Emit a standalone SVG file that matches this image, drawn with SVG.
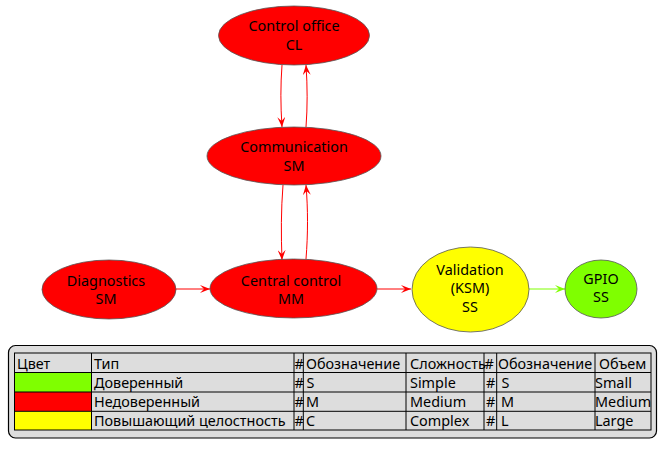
<svg xmlns="http://www.w3.org/2000/svg" width="672" height="453" viewBox="0 0 672 453">
<style>
text{font-family:"Noto Sans","Open Sans","DejaVu Sans",sans-serif;font-size:14.4px;fill:#000}
.n{text-anchor:middle}
.node ellipse{stroke:#555;stroke-width:0.8}
.red{fill:#FF0000}.yel{fill:#FFFF00}.grn{fill:#7FFF00}
.e{fill:none;stroke-width:1}
.er{stroke:#FF0000}.eg{stroke:#7FFF00}
.tl{stroke:#000;stroke-width:1;fill:none}
</style>
<defs>
<marker id="ar" viewBox="0 0 10 8" refX="10" refY="4" markerWidth="10" markerHeight="8" markerUnits="userSpaceOnUse" orient="auto">
<polygon points="0,0 10,4 0,8 4,4" fill="#FF0000"/>
</marker>
<marker id="ag" viewBox="0 0 10 8" refX="10" refY="4" markerWidth="10" markerHeight="8" markerUnits="userSpaceOnUse" orient="auto">
<polygon points="0,0 10,4 0,8 4,4" fill="#7FFF00"/>
</marker>
</defs>
<rect width="672" height="453" fill="#FFFFFF"/>
<g id="connectors">
<path class="e er" d="M282,65 C280.5,85 280.5,105 282,127" marker-end="url(#ar)"/>
<path class="e er" d="M306,127 C307.5,107 307.5,87 306,65" marker-end="url(#ar)"/>
<path class="e er" d="M283,185 C281,210 281,235 282,260" marker-end="url(#ar)"/>
<path class="e er" d="M306,259 C308,234 308,209 306,185" marker-end="url(#ar)"/>
<path class="e er" d="M176,289 L210,289" marker-end="url(#ar)"/>
<path class="e er" d="M377,289 L411,289" marker-end="url(#ar)"/>
<path class="e eg" d="M529,289 L565,289" marker-end="url(#ag)"/>
</g>
<g id="control-office" class="node">
<ellipse class="red" cx="294" cy="35.5" rx="75.5" ry="29.5"/>
<text class="n" x="294" y="31">Control office</text>
<text class="n" x="294" y="49.5">CL</text>
</g>
<g id="communication" class="node">
<ellipse class="red" cx="294" cy="156" rx="87" ry="29"/>
<text class="n" x="294" y="151.5">Communication</text>
<text class="n" x="294" y="171">SM</text>
</g>
<g id="diagnostics" class="node">
<ellipse class="red" cx="109" cy="289.5" rx="67" ry="29.5"/>
<text class="n" x="106" y="285.5">Diagnostics</text>
<text class="n" x="106" y="304">SM</text>
</g>
<g id="central-control" class="node">
<ellipse class="red" cx="293.5" cy="288.5" rx="83.5" ry="29.5"/>
<text class="n" x="291" y="285.5">Central control</text>
<text class="n" x="291" y="304">MM</text>
</g>
<g id="validation" class="node">
<ellipse class="yel" cx="470.5" cy="289.5" rx="58.5" ry="42.5"/>
<text class="n" x="470" y="274.5">Validation</text>
<text class="n" x="470" y="293">(KSM)</text>
<text class="n" x="470" y="311.5">SS</text>
</g>
<g id="gpio" class="node">
<ellipse class="grn" cx="601" cy="289" rx="36" ry="29"/>
<text class="n" x="601" y="283.5">GPIO</text>
<text class="n" x="601" y="302">SS</text>
</g>
<g id="legend">
<rect x="8.5" y="345.5" width="648" height="92.5" rx="7" ry="7" fill="#DDDDDD" stroke="#000" stroke-width="1.2"/>
<rect x="14.5" y="372.5" width="77" height="19.5" class="grn"/>
<rect x="14.5" y="392" width="77" height="19.3" class="red"/>
<rect x="14.5" y="411.3" width="77" height="18.7" class="yel"/>
<rect class="tl" x="14.5" y="353" width="636.5" height="77"/>
<path class="tl" d="M14.5,372.5H651M14.5,392H651M14.5,411.3H651M91.5,353V430M294,353V430M303.3,353V430M406,353V430M484,353V430M496.7,353V430M595,353V430"/>
<text x="17" y="368.5">Цвет</text>
<text x="94" y="368.5">Тип</text>
<text x="294.5" y="368.5">#</text>
<text x="306" y="368.5">Обозначение</text>
<text x="410" y="368.5">Сложность</text>
<text x="484.5" y="368.5">#</text>
<text x="498" y="368.5">Обозначение</text>
<text x="599" y="368.5">Объем</text>
<text x="94" y="388">Доверенный</text>
<text x="294.5" y="388">#</text>
<text x="306.5" y="388">S</text>
<text x="410" y="388">Simple</text>
<text x="486" y="388">#</text>
<text x="501.5" y="388">S</text>
<text x="595" y="388">Small</text>
<text x="94" y="407">Недоверенный</text>
<text x="294.5" y="407">#</text>
<text x="306" y="407">M</text>
<text x="410" y="407">Medium</text>
<text x="486" y="407">#</text>
<text x="501" y="407">M</text>
<text x="595" y="407">Medium</text>
<text x="94" y="426">Повышающий целостность</text>
<text x="294.5" y="426">#</text>
<text x="306" y="426">C</text>
<text x="410" y="426">Complex</text>
<text x="486" y="426">#</text>
<text x="501" y="426">L</text>
<text x="595" y="426">Large</text>
</g>
</svg>
